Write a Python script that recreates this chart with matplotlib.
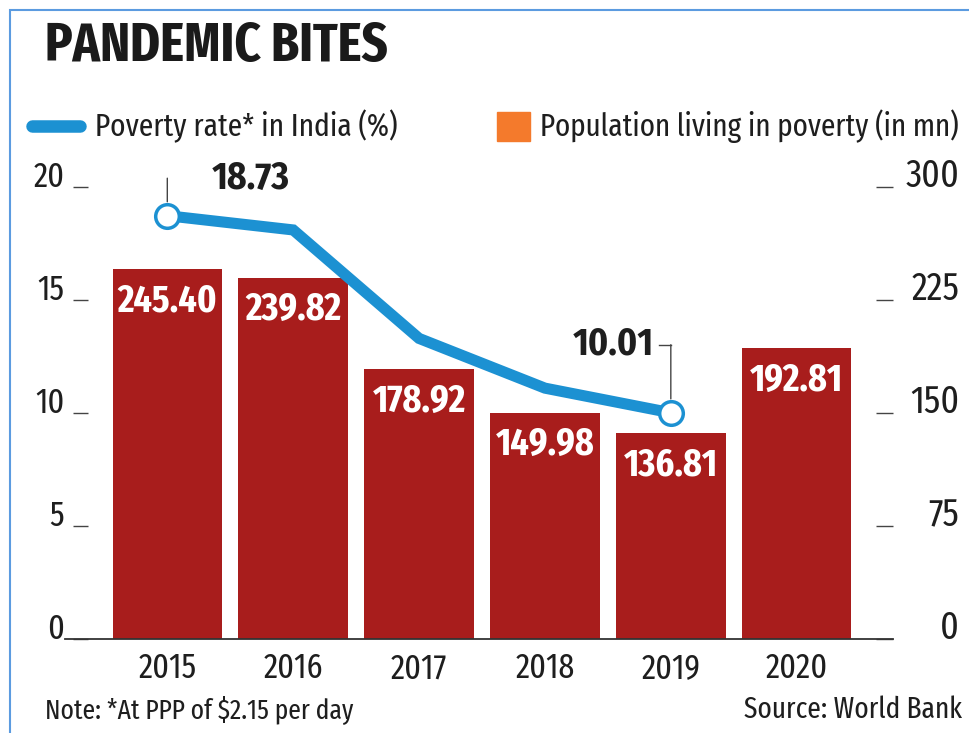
import matplotlib.pyplot as plt
from matplotlib.lines import Line2D
from matplotlib.patches import Rectangle
import matplotlib.transforms as mtransforms

years = ['2015', '2016', '2017', '2018', '2019', '2020']
population_mn = [245.40, 239.82, 178.92, 149.98, 136.81, 192.81]
rate_years = ['2015', '2016', '2017', '2018', '2019']
poverty_rate = [18.73, 18.1, 13.3, 11.1, 10.01]

left_ticks = [0, 5, 10, 15, 20]
right_ticks = [0, 75, 150, 225, 300]

BAR_RED = '#a81d1c'
LINE_BLUE = '#1c91d2'
LEGEND_ORANGE = '#f47a2c'
TEXT = '#1e1e1e'

plt.rcParams['font.family'] = ['Fira Sans Extra Condensed', 'DejaVu Sans']
CALLOUT_FONT = ['Fira Sans Condensed', 'DejaVu Sans']

W, H = 969, 733
fig = plt.figure(figsize=(W / 100, H / 100), dpi=100)


def fx(px):
    return px / W


def fy(py):
    return 1 - py / H


# frame of the graphic
fig.patches.append(Rectangle((fx(10), fy(740)), fx(970), fy(10) - fy(740),
                             transform=fig.transFigure, fill=False,
                             edgecolor='#5b9be0', lw=1.5))

ax = fig.add_axes([fx(88), fy(639), fx(876) - fx(88), fy(187) - fy(639)])
x = list(range(len(years)))
ax.bar(x, population_mn, width=0.87, color=BAR_RED, zorder=2)
ax.set_xlim(-0.63, 5.63)
ax.set_ylim(0, 300)
ax.set_xticks(x)
ax.set_xticklabels(years)
for s in ax.spines.values():
    s.set_visible(False)

for xi, v in zip(x, population_mn):
    ax.annotate(f'{v:.2f}', (xi, v), xytext=(0, -23), textcoords='offset points',
                ha='center', va='center', color='white', fontsize=28,
                fontweight='bold', zorder=3)

ax2 = ax.twinx()
ax2.set_ylim(0, 20)
for s in ax2.spines.values():
    s.set_visible(False)

# bars' scale on the right, rate's scale on the left
ax.yaxis.tick_right()
ax.set_yticks(right_ticks)
ax.tick_params(axis='x', length=0, pad=9, labelsize=25, labelcolor=TEXT)
ax.tick_params(axis='y', length=12, width=1, color='#444444', pad=48,
               labelsize=28, labelcolor=TEXT, left=False, labelleft=False,
               right=True, labelright=True)
for lab in ax.get_yticklabels():
    lab.set_verticalalignment('baseline')
    lab.set_horizontalalignment('right')

ax2.yaxis.tick_left()
ax2.set_yticks(left_ticks)
ax2.tick_params(axis='y', length=11, width=1, color='#444444', pad=6,
                labelsize=25, labelcolor=TEXT, right=False, labelright=False,
                left=True, labelleft=True)
for lab in ax2.get_yticklabels():
    lab.set_verticalalignment('baseline')

xr = [years.index(y) for y in rate_years]
ax2.plot(xr, poverty_rate, color=LINE_BLUE, lw=8, solid_capstyle='butt',
         solid_joinstyle='miter', zorder=3)
for i in (0, len(xr) - 1):
    ax2.plot(xr[i], poverty_rate[i], 'o', ms=17, mfc='white', mec=LINE_BLUE,
             mew=2.5, zorder=4)

# leader lines and value callouts
x0, y0 = xr[0], poverty_rate[0]
ax2.annotate('', (x0, y0), xytext=(0, 27), textcoords='offset points',
             arrowprops=dict(arrowstyle='-', color='#444444', lw=1,
                             shrinkA=0, shrinkB=10))
off = mtransforms.offset_copy(ax2.transData, fig=fig, x=0, y=27, units='points')
ax2.plot([x0, x0 + 0.27], [y0, y0], color='#444444', lw=1, transform=off, zorder=4)
ax2.annotate(f'{y0:.2f}', (x0, y0), xytext=(32, 27), textcoords='offset points',
             ha='left', va='center', fontsize=27, fontweight='bold',
             family=CALLOUT_FONT, color=TEXT)

x1, y1 = xr[-1], poverty_rate[-1]
ax2.annotate('', (x1, y1), xytext=(0, 49), textcoords='offset points',
             arrowprops=dict(arrowstyle='-', color='#444444', lw=1,
                             shrinkA=0, shrinkB=10))
off1 = mtransforms.offset_copy(ax2.transData, fig=fig, x=0, y=49, units='points')
ax2.plot([x1 - 0.095, x1], [y1, y1], color='#444444', lw=1, transform=off1, zorder=4)
ax2.annotate(f'{y1:.2f}', (x1, y1), xytext=(-12, 49), textcoords='offset points',
             ha='right', va='center', fontsize=27, fontweight='bold',
             family=CALLOUT_FONT, color=TEXT)

# baseline extends past the plotting area
fig.add_artist(Line2D([fx(65), fx(893)], [fy(639), fy(639)],
                      transform=fig.transFigure, color='#333333', lw=1.3))

# title and legend
fig.text(fx(45), fy(47), 'PANDEMIC BITES', fontsize=39.5, fontweight='bold',
         color='#1a1a1a', va='center', ha='left')
fig.add_artist(Line2D([fx(32), fx(80)], [fy(126), fy(126)],
                      transform=fig.transFigure, color=LINE_BLUE, lw=9,
                      solid_capstyle='round'))
fig.text(fx(95), fy(126), 'Poverty rate* in India (%)', fontsize=23,
         color=TEXT, va='center', ha='left')
fig.patches.append(Rectangle((fx(497), fy(141)), fx(33), fy(112) - fy(141),
                             transform=fig.transFigure, color=LEGEND_ORANGE))
fig.text(fx(540), fy(126), 'Population living in poverty (in mn)', fontsize=22.8,
         color=TEXT, va='center', ha='left')

fig.text(fx(45), fy(710), 'Note: *At PPP of $2.15 per day', fontsize=20,
         color=TEXT, va='center', ha='left')
fig.text(fx(962), fy(710), 'Source: World Bank', fontsize=21.5,
         color=TEXT, va='center', ha='right')

fig.savefig('out.png', dpi=100, facecolor='white')
